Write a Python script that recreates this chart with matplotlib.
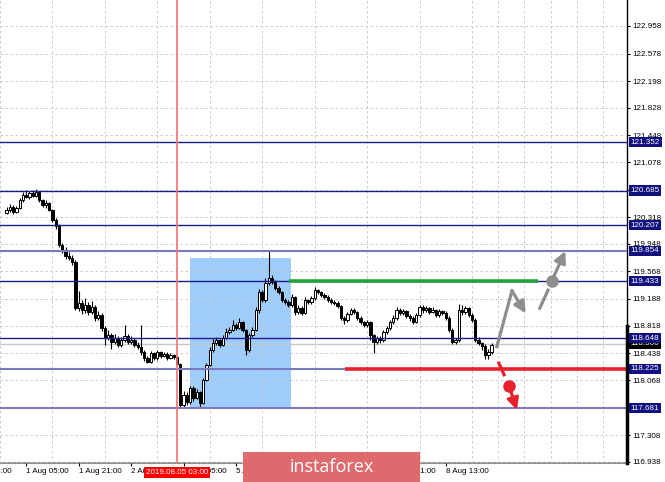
import numpy as np
import matplotlib.pyplot as plt
from matplotlib.patches import Rectangle

plt.rcParams['font.family'] = ['Liberation Sans', 'DejaVu Sans']

# H1 bars, 31 Jul 23:00 ... 9 Aug 02:00 (bar index = position on x)
first_open = 120.38
closes = [120.417, 120.458, 120.389, 120.445, 120.555, 120.624, 120.596, 120.652, 120.610, 120.665,
          120.555, 120.486, 120.514, 120.417, 120.279, 120.196, 119.934, 119.864, 119.781, 119.754,
          119.698, 119.064, 119.133, 119.036, 119.105, 119.008, 119.077, 118.926, 118.967, 118.788,
          118.650, 118.691, 118.594, 118.650, 118.553, 118.622, 118.677, 118.594, 118.622, 118.553,
          118.525, 118.456, 118.374, 118.318, 118.443, 118.374, 118.456, 118.401, 118.429, 118.374,
          118.415, 118.387, 118.291, 117.724, 117.862, 117.765, 117.959, 117.821, 117.903, 117.752,
          118.069, 118.277, 118.484, 118.581, 118.622, 118.553, 118.650, 118.732, 118.760, 118.829,
          118.788, 118.870, 118.760, 118.484, 118.691, 118.760, 119.036, 119.284, 119.174, 119.409,
          119.478, 119.422, 119.340, 119.284, 119.174, 119.146, 119.105, 119.215, 119.008, 119.064,
          118.995, 119.174, 119.146, 119.202, 119.312, 119.284, 119.243, 119.215, 119.174, 119.146,
          119.133, 119.091, 118.926, 118.898, 118.981, 119.036, 119.008, 118.926, 118.870, 118.829,
          118.870, 118.691, 118.594, 118.650, 118.622, 118.732, 118.788, 118.870, 118.926, 119.036,
          118.995, 119.022, 118.953, 118.926, 118.870, 118.967, 119.077, 119.036, 119.064, 119.008,
          119.036, 118.967, 119.022, 118.995, 118.926, 118.760, 118.594, 118.622, 119.036, 119.008,
          119.064, 118.967, 118.898, 118.622, 118.581, 118.539, 118.415, 118.456, 118.553]
highs = [120.46, 120.50, 120.48, 120.47, 120.58, 120.67, 120.69, 120.68, 120.69, 120.70,
         120.67, 120.57, 120.55, 120.53, 120.43, 120.30, 120.22, 119.96, 119.90, 119.83,
         119.80, 119.72, 119.30, 119.17, 119.20, 119.15, 119.16, 119.10, 119.02, 118.99,
         118.82, 118.76, 118.72, 118.70, 118.68, 118.66, 118.83, 118.70, 118.67, 118.65,
         118.59, 118.83, 118.48, 118.40, 118.47, 118.46, 118.48, 118.47, 118.46, 118.45,
         118.44, 118.43, 118.40, 118.31, 117.92, 117.90, 117.99, 117.98, 117.95, 117.92,
         118.10, 118.30, 118.52, 118.63, 118.66, 118.64, 118.69, 118.78, 118.80, 118.90,
         118.86, 118.93, 118.89, 118.77, 118.72, 118.80, 119.08, 119.33, 119.31, 119.48,
         119.86, 119.52, 119.45, 119.37, 119.30, 119.20, 119.17, 119.26, 119.23, 119.10,
         119.09, 119.21, 119.19, 119.23, 119.35, 119.33, 119.30, 119.27, 119.24, 119.20,
         119.18, 119.16, 119.10, 118.95, 119.01, 119.06, 119.06, 119.02, 118.95, 118.89,
         118.90, 118.89, 118.71, 118.68, 118.68, 118.76, 118.82, 118.90, 118.96, 119.07,
         119.06, 119.05, 119.04, 118.98, 118.95, 118.99, 119.11, 119.10, 119.09, 119.08,
         119.07, 119.05, 119.05, 119.04, 119.02, 118.95, 118.78, 118.65, 119.12, 119.10,
         119.09, 119.08, 118.99, 118.92, 118.66, 118.60, 118.56, 118.49, 118.58]
lows = [120.36, 120.39, 120.36, 120.37, 120.43, 120.53, 120.58, 120.57, 120.59, 120.59,
        120.53, 120.46, 120.44, 120.40, 120.25, 120.16, 119.90, 119.82, 119.74, 119.72,
        119.66, 119.03, 119.02, 118.98, 119.00, 118.96, 118.98, 118.88, 118.90, 118.75,
        118.55, 118.62, 118.50, 118.57, 118.52, 118.53, 118.60, 118.56, 118.57, 118.52,
        118.49, 118.42, 118.33, 118.30, 118.30, 118.34, 118.35, 118.37, 118.38, 118.35,
        118.36, 118.36, 118.27, 117.68, 117.70, 117.73, 117.74, 117.78, 117.80, 117.70,
        117.74, 118.05, 118.26, 118.46, 118.55, 118.52, 118.54, 118.63, 118.70, 118.74,
        118.76, 118.77, 118.73, 118.42, 118.46, 118.66, 118.74, 119.00, 119.15, 119.15,
        119.38, 119.40, 119.31, 119.25, 119.14, 119.12, 119.08, 119.08, 118.97, 118.98,
        118.96, 118.98, 119.12, 119.12, 119.18, 119.25, 119.22, 119.19, 119.15, 119.12,
        119.10, 119.06, 118.90, 118.84, 118.87, 118.96, 118.98, 118.90, 118.84, 118.80,
        118.80, 118.62, 118.44, 118.56, 118.58, 118.60, 118.71, 118.76, 118.84, 118.90,
        118.96, 118.97, 118.92, 118.89, 118.84, 118.85, 118.94, 119.00, 119.01, 118.98,
        118.99, 118.94, 118.94, 118.96, 118.90, 118.73, 118.56, 118.57, 118.60, 118.97,
        118.98, 118.94, 118.87, 118.60, 118.55, 118.48, 118.36, 118.36, 118.43]

tick_bars = [6, 22, 38, 54, 70, 86, 102, 118, 134]
tick_texts = ['1 Aug 05:00', '1 Aug 21:00', '2 Aug 13:00', '5 Aug 05:00', '5 Aug 21:00',
              '6 Aug 13:00', '7 Aug 05:00', '7 Aug 21:00', '8 Aug 13:00']
price_ticks = [122.958, 122.578, 122.198, 121.828, 121.448, 121.078, 120.698, 120.318,
               119.948, 119.568, 119.188, 118.818, 118.438, 118.068, 117.688, 117.308, 116.938]

dark_levels = [121.352, 120.685, 120.207, 119.433, 118.648]
light_levels = [119.854, 118.225, 117.681]
bid = 118.566
marker_bar = 52  # 2019.08.05 03:00

# marked zones / scenario
box_bars = (56.0, 86.9)
box_prices = (117.67, 119.754)
buy_line = (86.3, 162.1, 119.433)
sell_line = (103.3, 189.3, 118.225)
gray_path = [(149.6, 118.53), (154.2, 119.30), (158.4, 118.99)]
gray_dash = [(162.7, 119.06), (165.2, 119.31)]
gray_dot = (166.3, 119.433)
gray_target = (170.5, 119.85)
red_dash = [(150.2, 118.30), (151.8, 118.14)]
red_dot = (153.3, 117.99)
red_target = (155.7, 117.655)

closes = np.array(closes)
highs = np.array(highs)
lows = np.array(lows)
opens = np.r_[first_open, closes[:-1]]
x = np.arange(len(closes))

fig = plt.figure(figsize=(6.65, 4.82), dpi=100)
ax = fig.add_axes([0, 19 / 482, 627 / 665, 463 / 482])
ax.set_xlim(-0.67, 189.3)
ax.set_ylim(116.922, 123.317)

# rectangle zone
ax.add_patch(Rectangle((box_bars[0], box_prices[0]), box_bars[1] - box_bars[0],
                       box_prices[1] - box_prices[0], facecolor='#9fcdfb',
                       edgecolor='none', zorder=1))

# grid
ax.set_axisbelow(False)
ax.set_xticks(np.arange(-2, 190, 8), minor=True)
ax.grid(True, axis='x', which='minor', color='#c4c4c4', ls=(0, (3, 3)), lw=0.6)
ax.grid(True, axis='y', which='major', color='#c4c4c4', ls=(0, (3, 3)), lw=0.6)

# candles
up = closes >= opens
ax.vlines(x, lows, highs, color='black', lw=0.8, zorder=3)
ax.bar(x, np.maximum(np.abs(closes - opens), 0.004), bottom=np.minimum(opens, closes),
       width=0.7, color=np.where(up, 'white', 'black'), edgecolor='black', lw=0.7, zorder=4)

# level lines
ax.axhline(bid, color='#c8c8c8', lw=1, zorder=2)
for lv in dark_levels:
    ax.axhline(lv, color='#1c1c8c', lw=1, zorder=5)
for lv in light_levels:
    ax.axhline(lv, color='#7a7abf', lw=1.5, zorder=5)
ax.axvline(marker_bar, color='#ff7070', lw=1.2, zorder=5)

ax.plot(buy_line[:2], [buy_line[2]] * 2, color='#22a33a', lw=2.6, zorder=6, solid_capstyle='butt')
ax.plot(sell_line[:2], [sell_line[2]] * 2, color='#e8202a', lw=2.6, zorder=6, solid_capstyle='butt')

# scenario arrows
gray = '#8e8e8e'
red = '#e8202a'
arrow = dict(arrowstyle='-|>', lw=2.3, mutation_scale=17, shrinkA=0, shrinkB=0)
ax.plot([p[0] for p in gray_path[:2]], [p[1] for p in gray_path[:2]], color=gray, lw=2.3, zorder=7)
ax.annotate('', xy=gray_path[2], xytext=gray_path[1], arrowprops=dict(arrow, color=gray), zorder=7)
ax.plot([p[0] for p in gray_dash], [p[1] for p in gray_dash], color=gray, lw=2.3, zorder=7)
ax.plot(*gray_dot, 'o', ms=8, color=gray, zorder=8)
ax.annotate('', xy=gray_target, xytext=gray_dot, arrowprops=dict(arrow, color=gray), zorder=7)
ax.plot([p[0] for p in red_dash], [p[1] for p in red_dash], color=red, lw=2.3, zorder=7)
ax.plot(*red_dot, 'o', ms=8, color=red, zorder=8)
ax.annotate('', xy=red_target, xytext=red_dot, arrowprops=dict(arrow, color=red), zorder=7)

# axes look
for s in ['top', 'left']:
    ax.spines[s].set_visible(False)
ax.spines['right'].set_color('black')
ax.spines['right'].set_linewidth(1)
ax.spines['bottom'].set_color('#909090')
ax.spines['bottom'].set_linewidth(1.5)

ax.yaxis.tick_right()
ax.set_yticks(price_ticks, labels=[f'{v:.3f}' for v in price_ticks])
ax.tick_params(axis='y', length=2.2, width=0.8, pad=1.5, labelsize=5.8)
ax.set_xticks(tick_bars, labels=tick_texts)
ax.tick_params(axis='x', which='major', length=2.2, width=0.8, pad=1.5, labelsize=5.8)
ax.tick_params(axis='x', which='minor', length=0)
for lab in ax.get_xticklabels():
    lab.set_ha('left')
ax.annotate('31 Jul 13:00', xy=(-11.8, 0), xycoords=ax.get_xaxis_transform(),
            xytext=(0, -3.7), textcoords='offset points', ha='left', va='top',
            fontsize=5.8, annotation_clip=False)

# black range bar on price scale
ax.plot([1, 1], [116.922, 118.818], transform=ax.get_yaxis_transform(), color='black',
        lw=2.5, clip_on=False, zorder=6)

# price labels for levels
ytr = ax.get_yaxis_transform()
ax.text(1.006, bid, f'{bid:.3f}', transform=ytr, ha='left', va='center', fontsize=5.8,
        color='white', clip_on=False, zorder=9,
        bbox=dict(boxstyle='square,pad=0.2', facecolor='black', edgecolor='none'))
for lv in dark_levels + light_levels:
    ax.text(1.006, lv, f'{lv:.3f}', transform=ytr, ha='left', va='center', fontsize=5.8,
            color='white', clip_on=False, zorder=10,
            bbox=dict(boxstyle='square,pad=0.2', facecolor='#10107e', edgecolor='none'))

# time marker label
ax.text(marker_bar, -0.021, '2019.08.05 03:00', transform=ax.get_xaxis_transform(),
        ha='center', va='center', fontsize=5.8, color='white', clip_on=False, zorder=10,
        bbox=dict(boxstyle='square,pad=0.25', facecolor='#ff0000', edgecolor='none'))

# watermark
fig.patches.append(Rectangle((243 / 665, 0), 177 / 665, 30 / 482, transform=fig.transFigure,
                             facecolor='#df6a6d', edgecolor='none', zorder=20))
fig.text(331.5 / 665, 15 / 482, 'instaforex', ha='center', va='center', color='white',
         fontsize=13, family='Open Sans', zorder=21)

fig.savefig('out.png', dpi=100)
